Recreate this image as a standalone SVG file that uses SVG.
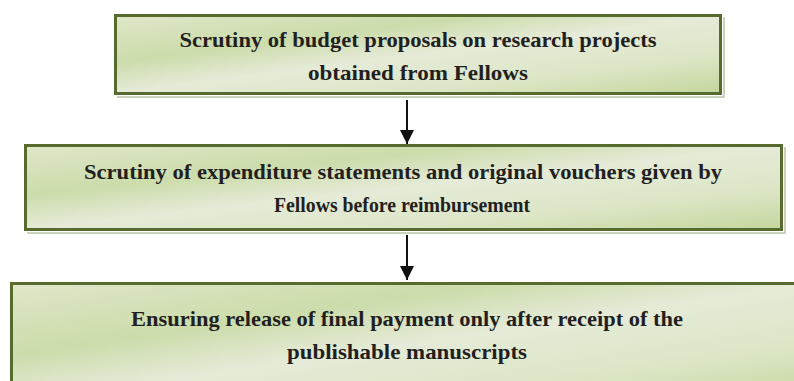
<svg xmlns="http://www.w3.org/2000/svg" width="794" height="381" viewBox="0 0 794 381">
  <defs>
    <linearGradient id="fillGreen" x1="0" y1="0" x2="1" y2="1" gradientUnits="objectBoundingBox">
      <stop offset="0" stop-color="#dfe7c9"/>
      <stop offset="0.3" stop-color="#ccdcab"/>
      <stop offset="0.5" stop-color="#e5ebd8"/>
      <stop offset="0.75" stop-color="#dce6c6"/>
      <stop offset="1" stop-color="#c4d69d"/>
    </linearGradient>
    <marker id="arrowHead" viewBox="0 0 14 14" refX="14" refY="7" markerWidth="14" markerHeight="14" markerUnits="userSpaceOnUse" orient="auto">
      <path d="M0,0 L14,7 L0,14 Z" fill="#111"/>
    </marker>
  </defs>
  <style>
    .box { fill: url(#fillGreen); stroke: #586b2e; stroke-width: 3; }
    .shadow { fill: none; stroke: #b9c4a3; stroke-width: 1.5; }
    .label { font-family: "Liberation Serif", "Times New Roman", serif; font-weight: bold; font-size: 22px; fill: #231f20; text-anchor: middle; }
    .conn { stroke: #111; stroke-width: 2; fill: none; }
  </style>

  <rect width="794" height="381" fill="#ffffff"/>

  <g id="node-budget">
    <polyline class="shadow" points="724,17 724,97 117,97"/>
    <rect class="box" x="115.5" y="15.5" width="605" height="78"/>
    <text class="label" x="418" y="47" textLength="477" lengthAdjust="spacingAndGlyphs">Scrutiny of budget proposals on research projects</text>
    <text class="label" x="418" y="80" textLength="220" lengthAdjust="spacingAndGlyphs">obtained from Fellows</text>
  </g>

  <g id="node-expenditure">
    <polyline class="shadow" points="785,147 785,233 27,233"/>
    <rect class="box" x="25.5" y="145.5" width="756" height="84"/>
    <text class="label" x="403" y="179" textLength="638" lengthAdjust="spacingAndGlyphs">Scrutiny of expenditure statements and original vouchers given by</text>
    <text class="label" x="402" y="212" textLength="256" lengthAdjust="spacingAndGlyphs">Fellows before reimbursement</text>
  </g>

  <g id="node-payment">
    <rect class="box" x="11.5" y="283.5" width="800" height="120"/>
    <text class="label" x="407" y="326" textLength="552" lengthAdjust="spacingAndGlyphs">Ensuring release of final payment only after receipt of the</text>
    <text class="label" x="407" y="359" textLength="240" lengthAdjust="spacingAndGlyphs">publishable manuscripts</text>
  </g>

  <g id="connectors">
    <line class="conn" x1="407" y1="100" x2="407" y2="144" marker-end="url(#arrowHead)"/>
    <line class="conn" x1="407" y1="235" x2="407" y2="280" marker-end="url(#arrowHead)"/>
  </g>
</svg>
